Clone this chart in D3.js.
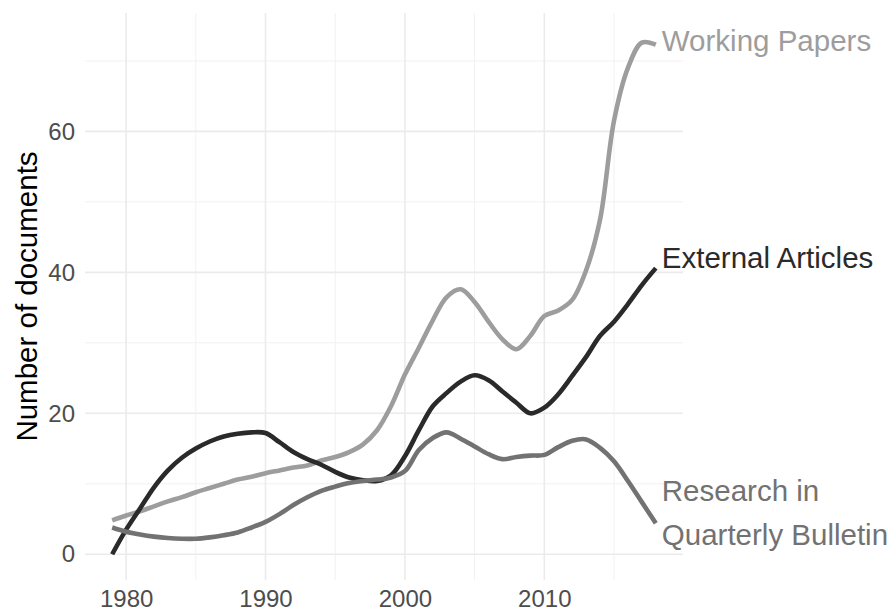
<!DOCTYPE html>
<html>
<head>
<meta charset="utf-8">
<script src="https://cdn.jsdelivr.net/npm/d3@7"></script>
<style>
  body { margin: 0; background: #fff; }
  svg { display: block; font-family: "Liberation Sans", Arial, sans-serif; }
</style>
</head>
<body>
<svg id="chart" width="894" height="611"></svg>
<script>
// yearly values, 1979..2018
const years = d3.range(1979, 2019);
const workingPapers = [4.8, 5.5, 6.1, 6.8, 7.5, 8.1, 8.8, 9.4, 10.0, 10.6,
  11.0, 11.5, 11.9, 12.3, 12.6, 13.3, 13.8, 14.5, 15.6, 17.6,
  21.0, 25.5, 29.3, 33.2, 36.5, 37.6, 35.8, 33.0, 30.5, 29.1,
  31.0, 33.8, 34.6, 36.1, 40.3, 47.5, 61.5, 69.0, 72.6, 72.3];
const externalArticles = [0.0, 3.5, 6.5, 9.5, 11.9, 13.7, 15.0, 16.0, 16.7, 17.1,
  17.3, 17.2, 15.9, 14.5, 13.5, 12.7, 11.7, 10.9, 10.5, 10.4,
  11.2, 13.9, 17.6, 21.0, 22.9, 24.5, 25.4, 24.7, 23.1, 21.5,
  20.0, 20.8, 22.7, 25.3, 28.0, 31.0, 33.0, 35.5, 38.2, 40.6];
const researchQB = [3.8, 3.2, 2.8, 2.5, 2.3, 2.2, 2.2, 2.4, 2.7, 3.1,
  3.8, 4.6, 5.7, 7.0, 8.1, 9.0, 9.6, 10.1, 10.4, 10.6,
  10.9, 11.8, 14.8, 16.5, 17.3, 16.4, 15.3, 14.2, 13.5, 13.8,
  14.0, 14.1, 15.2, 16.1, 16.3, 15.1, 13.2, 10.4, 7.4, 4.4];

const seriesNames = ['Working Papers', 'External Articles', 'Research in\nQuarterly Bulletin'];
const seriesValues = [workingPapers, externalArticles, researchQB];
const seriesColors = ['#9d9d9d', '#2a2a2a', '#727272'];
const labelDy = [6, 0, 0];

const xTicks = [1980, 1990, 2000, 2010];
const xMinor = [1985, 1995, 2005, 2015];
const yTicks = [0, 20, 40, 60];
const yMinor = [10, 30, 50, 70];

const svg = d3.select('#chart');
const m = { left: 85, right: 683, top: 13, bottom: 580 };

const x = d3.scaleLinear().domain([1977.05, 2019.95]).range([m.left, m.right]);
const y = d3.scaleLinear().domain([-3.65, 76.8]).range([m.bottom, m.top]);

// grid
const grid = svg.append('g');
grid.selectAll('.vmin').data(xMinor).join('line')
  .attr('x1', d => x(d)).attr('x2', d => x(d)).attr('y1', m.top).attr('y2', m.bottom)
  .attr('stroke', '#f1f1f1').attr('stroke-width', 1);
grid.selectAll('.hmin').data(yMinor).join('line')
  .attr('y1', d => y(d)).attr('y2', d => y(d)).attr('x1', m.left).attr('x2', m.right)
  .attr('stroke', '#f1f1f1').attr('stroke-width', 1);
grid.selectAll('.vmaj').data(xTicks).join('line')
  .attr('x1', d => x(d)).attr('x2', d => x(d)).attr('y1', m.top).attr('y2', m.bottom)
  .attr('stroke', '#ebebeb').attr('stroke-width', 1.6);
grid.selectAll('.hmaj').data(yTicks).join('line')
  .attr('y1', d => y(d)).attr('y2', d => y(d)).attr('x1', m.left).attr('x2', m.right)
  .attr('stroke', '#ebebeb').attr('stroke-width', 1.6);

// axes (labels only, like theme_minimal)
const xAxis = svg.append('g')
  .attr('transform', `translate(0,${m.bottom})`)
  .call(d3.axisBottom(x).tickValues(xTicks).tickFormat(d3.format('d')).tickSize(0).tickPadding(10));
const yAxis = svg.append('g')
  .attr('transform', `translate(${m.left},0)`)
  .call(d3.axisLeft(y).tickValues(yTicks).tickSize(0).tickPadding(10));
[xAxis, yAxis].forEach(a => {
  a.select('.domain').remove();
  a.selectAll('text').attr('fill', '#4d4d4d').style('font-size', '24px')
    .style('font-family', '"Liberation Sans", Arial, sans-serif');
});

svg.append('text')
  .attr('transform', `translate(37,${(m.top + m.bottom) / 2}) rotate(-90)`)
  .attr('text-anchor', 'middle')
  .style('font-size', '29.5px')
  .attr('fill', '#000')
  .text('Number of documents');

// lines
const line = d3.line()
  .x((d, i) => x(years[i]))
  .y(d => y(d))
  .curve(d3.curveCatmullRom.alpha(0.5));

svg.append('g').selectAll('path').data(seriesValues).join('path')
  .attr('d', d => line(d))
  .attr('fill', 'none')
  .attr('stroke', (d, i) => seriesColors[i])
  .attr('stroke-width', 4.6);

// end labels
seriesValues.forEach((vals, i) => {
  const ex = x(years[years.length - 1]);
  const ey = y(vals[vals.length - 1]);
  const parts = seriesNames[i].split('\n');
  const t = svg.append('text')
    .attr('fill', seriesColors[i])
    .style('font-size', '29.5px');
  parts.forEach((p, k) => {
    const off = parts.length === 1 ? labelDy[i] : (k === 0 ? -22 : 22);
    t.append('tspan').attr('x', ex + 6).attr('y', ey + off).text(p);
  });
});
</script>
</body>
</html>
